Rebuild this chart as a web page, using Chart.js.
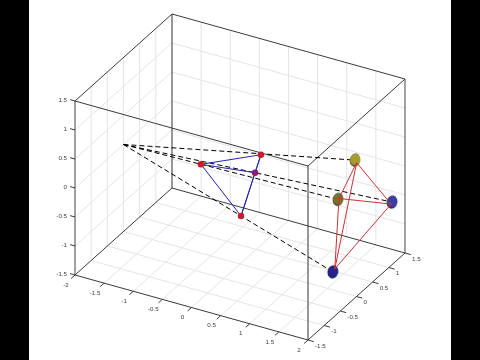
<!DOCTYPE html>
<html><head><meta charset="utf-8">
<style>html,body{margin:0;padding:0;background:#000;width:480px;height:360px;overflow:hidden}
#w{position:absolute;left:29px;top:0;width:422px;height:360px;background:#fff}</style>
<script src="https://cdn.jsdelivr.net/npm/chart.js@4"></script></head>
<body><div id="w"><canvas id="c" width="422" height="360"></canvas></div>
<script>
// axis limits and ticks
const xLim=[-2,2], yLim=[-1.5,1.5], zLim=[-1.5,1.5];
const xTicks=[-2,-1.5,-1,-0.5,0,0.5,1,1.5,2];
const yTicks=[-1.5,-1,-0.5,0,0.5,1,1.5];
const zTicks=[-1.5,-1,-0.5,0,0.5,1,1.5];
// 3D points
const focus=[-2,0,0];
const imagePoints=[[0,0.647,0.06],[-0.917,0.444,-0.26],[-0.089,0.627,-0.265],[-0.036,0.097,-0.73]];
const imageColors=['#cc1a2c','#cc1a2c','#8c1a78','#cc1a2c'];
const worldPoints=[[1.37,1.14,0.06],[1,1.26,-0.72],[1.9,1.25,-0.56],[1.5,0.23,-1.28]];
const sphereCentres=[[1.37,1.09,0.13],[1,1.23,-0.72],[1.9,1.28,-0.54],[1.5,0.17,-1.3]];
const sphereFill=['#a89c30','#74742e','#3c3ca8','#24248c'];
const edges=[[0,1],[0,2],[0,3],[1,2],[1,3],[2,3]];

// orthographic view of the 3D box
const view={ox:75,oy:275,xv:[58.25,16.25],yv:[32.33,-29],zv:[0,-58]};
function proj(p){
  const X=p[0]-xLim[0],Y=p[1]-yLim[0],Z=p[2]-zLim[0];
  return {x:view.ox+X*view.xv[0]+Y*view.yv[0]+Z*view.zv[0],
          y:view.oy+X*view.xv[1]+Y*view.yv[1]+Z*view.zv[1]};
}
const ds=[];
function line(a,b,color,width,dash){
  ds.push({type:'scatter',showLine:true,data:[proj(a),proj(b)],borderColor:color,borderWidth:width,
    borderDash:dash||[],pointRadius:0,fill:false,order:-ds.length});
}
const GRID='#e4e4e4',BOX='#3a3a3a';
const [x0,x1]=xLim,[y0,y1]=yLim,[z0,z1]=zLim;
// grids: floor, back wall, left wall
xTicks.slice(1,-1).forEach(t=>{line([t,y0,z0],[t,y1,z0],GRID,1);line([t,y1,z0],[t,y1,z1],GRID,1);});
yTicks.slice(1,-1).forEach(t=>{line([x0,t,z0],[x1,t,z0],GRID,1);line([x0,t,z0],[x0,t,z1],GRID,1);});
zTicks.slice(1,-1).forEach(t=>{line([x0,y1,t],[x1,y1,t],GRID,1);line([x0,y0,t],[x0,y1,t],GRID,1);});
// box
line([x0,y0,z0],[x1,y0,z0],BOX,1);line([x1,y0,z0],[x1,y1,z0],BOX,1);
line([x0,y0,z0],[x0,y1,z0],BOX,1);line([x0,y1,z0],[x1,y1,z0],BOX,1);
line([x0,y0,z1],[x1,y0,z1],BOX,1);line([x1,y0,z1],[x1,y1,z1],BOX,1);
line([x0,y0,z1],[x0,y1,z1],BOX,1);line([x0,y1,z1],[x1,y1,z1],BOX,1);
line([x0,y0,z0],[x0,y0,z1],'#444',1);line([x1,y1,z0],[x1,y1,z1],'#444',1);
line([x0,y1,z0],[x0,y1,z1],'#333',1);line([x1,y0,z0],[x1,y0,z1],'#333',1);
// tick marks
xTicks.forEach(t=>line([t,y0,z0],[t,y0-0.12,z0],BOX,1));
yTicks.forEach(t=>line([x1,t,z0],[x1+0.1,t,z0],BOX,1));
zTicks.forEach(t=>line([x0,y0,t],[x0-0.085,y0,t],BOX,1));
// rays from the focus to the spheres
sphereCentres.forEach(c=>line(focus,c,'#000',1,[5,3]));
// spheres
function sphere(col){
  const c=document.createElement('canvas');c.width=14;c.height=16;
  const g=c.getContext('2d');
  g.translate(7,8);g.rotate(0.25);
  g.beginPath();g.ellipse(0,0,5.4,6.6,0,0,Math.PI*2);
  const r=g.createRadialGradient(1.5,-2,1,0,0,7);
  r.addColorStop(0,col);r.addColorStop(0.65,col);r.addColorStop(1,'#1c1c20');
  g.fillStyle=r;g.fill();
  return c;
}
sphereCentres.forEach((p,i)=>{
  ds.push({type:'scatter',data:[proj(p)],pointStyle:sphere(sphereFill[i]),pointRadius:7,showLine:false,order:-ds.length});
});
// red tetrahedron edges
edges.forEach(e=>line(worldPoints[e[0]],worldPoints[e[1]],'#cc3034',1));
// blue tetrahedron, then the red markers
edges.forEach(e=>line(imagePoints[e[0]],imagePoints[e[1]],'#2424b0',1));
ds.push({type:'scatter',data:imagePoints.map(proj),pointStyle:'circle',pointRadius:3.2,backgroundColor:imageColors,
  borderWidth:0,showLine:false,order:-ds.length});

const fmt=v=>String(v);
const tickText={
  id:'tickText',
  afterDraw(ch){
    const g=ch.ctx,sx=ch.scales.x,sy=ch.scales.y;
    g.save();g.font='6.2px "Liberation Sans"';g.fillStyle='#404040';g.textBaseline='middle';
    const put=(p,dx,dy,al,t)=>{const q=proj(p);g.textAlign=al;
      g.fillText(fmt(t),sx.getPixelForValue(q.x)+dx,sy.getPixelForValue(q.y)+dy);};
    xTicks.forEach(t=>put([t,y0,z0],-9,10,'center',t));
    yTicks.forEach(t=>put([x1,t,z0],7,6,'left',t));
    zTicks.forEach(t=>put([x0,y0,t],-8,-1,'right',t));
    g.restore();
  }
};
new Chart(document.getElementById('c'),{
  type:'scatter',data:{datasets:ds},plugins:[tickText],
  options:{responsive:false,animation:false,layout:{padding:0,autoPadding:false},
    plugins:{legend:{display:false},tooltip:{enabled:false},title:{display:false}},
    scales:{x:{type:'linear',min:29,max:451,display:false},
            y:{type:'linear',min:0,max:360,reverse:true,display:false}}}
});
</script></body></html>
